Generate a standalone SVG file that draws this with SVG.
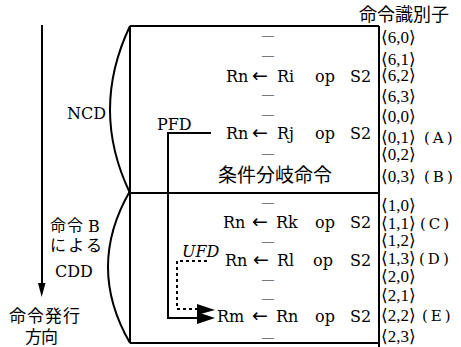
<svg xmlns="http://www.w3.org/2000/svg" width="461" height="347" viewBox="0 0 461 347">
<style>
.ln{fill:none;stroke:#000;stroke-width:2}
.lt{font-family:"DejaVu Serif","Liberation Serif",serif;font-size:16px;fill:#000}
.ar{font-family:"DejaVu Sans",sans-serif;font-size:19px}
.id{font-family:"Liberation Serif","DejaVu Serif",serif;font-size:17px;fill:#000}
.lb{font-family:"DejaVu Serif",serif;font-size:15px;letter-spacing:3px}
.jp{font-family:"Noto Sans CJK JP","Noto Sans CJK SC",sans-serif;fill:#000}
.dash{font-family:"Liberation Serif",serif;font-size:12px;fill:#000;text-anchor:middle}
</style>
<rect width="461" height="347" fill="#fff"/>
<g id="frame">
<path class="ln" d="M130,26 H379 M130,193 H379 M130,343 H379 M130,26 V343 M379,26 V347"/>
<path class="ln" d="M130,26 Q90,110 130,193"/>
<path class="ln" d="M130,191 Q86,267 130,343"/>
</g>
<g id="header"><text class="jp" x="359" y="21" font-size="18">命令識別子</text></g>
<g id="ncd-label"><text class="lt" x="67" y="119" font-size="17">NCD</text></g>
<g id="cdd-label">
<text class="jp" x="50" y="231" font-size="16" letter-spacing="1">命令</text>
<text class="lt" x="88" y="232" font-size="17">B</text>
<text class="jp" x="50" y="251" font-size="16" textLength="52">による</text>
<text class="lt" x="55" y="277" font-size="18">CDD</text>
</g>
<g id="direction-label">
<text class="jp" x="9" y="322" font-size="17" textLength="71">命令発行</text>
<text class="jp" x="25" y="343" font-size="17" textLength="33">方向</text>
</g>
<g id="dashes">
<text class="dash" x="268" y="39">—</text>
<text class="dash" x="268" y="59">—</text>
<text class="dash" x="268" y="98">—</text>
<text class="dash" x="268" y="118">—</text>
<text class="dash" x="268" y="157">—</text>
<text class="dash" x="268" y="206">—</text>
<text class="dash" x="268" y="245">—</text>
<text class="dash" x="268" y="283">—</text>
<text class="dash" x="268" y="302">—</text>
<text class="dash" x="268" y="341">—</text>
</g>
<g id="instr-ri"><text class="lt" y="82"><tspan x="226">Rn</tspan><tspan class="ar" x="252">←</tspan><tspan x="277">Ri</tspan><tspan x="315">op</tspan><tspan x="350">S2</tspan></text></g>
<g id="instr-rj"><text class="lt" y="139"><tspan x="226">Rn</tspan><tspan class="ar" x="252">←</tspan><tspan x="277">Rj</tspan><tspan x="315">op</tspan><tspan x="350">S2</tspan></text></g>
<g id="instr-branch"><text class="jp" x="218" y="182" font-size="19">条件分岐命令</text></g>
<g id="instr-rk"><text class="lt" y="228"><tspan x="223">Rn</tspan><tspan class="ar" x="252">←</tspan><tspan x="276">Rk</tspan><tspan x="315">op</tspan><tspan x="350">S2</tspan></text></g>
<g id="instr-rl"><text class="lt" y="266"><tspan x="225">Rn</tspan><tspan class="ar" x="253">←</tspan><tspan x="277">Rl</tspan><tspan x="313">op</tspan><tspan x="350">S2</tspan></text></g>
<g id="instr-rm"><text class="lt" y="322"><tspan x="217">Rm</tspan><tspan class="ar" x="252">←</tspan><tspan x="276">Rn</tspan><tspan x="315">op</tspan><tspan x="350">S2</tspan></text></g>
<g id="identifiers">
<text class="id" x="381" y="43">⟨6,0⟩</text>
<text class="id" x="381" y="65">⟨6,1⟩</text>
<text class="id" x="381" y="81">⟨6,2⟩</text>
<text class="id" x="381" y="102">⟨6,3⟩</text>
<text class="id" x="381" y="122">⟨0,0⟩</text>
<text class="id" x="381" y="143">⟨0,1⟩<tspan class="lb" x="424">(A)</tspan></text>
<text class="id" x="381" y="160">⟨0,2⟩</text>
<text class="id" x="381" y="182">⟨0,3⟩<tspan class="lb" x="424">(B)</tspan></text>
<text class="id" x="381" y="211">⟨1,0⟩</text>
<text class="id" x="381" y="229">⟨1,1⟩<tspan class="lb" x="420">(C)</tspan></text>
<text class="id" x="381" y="246">⟨1,2⟩</text>
<text class="id" x="381" y="264">⟨1,3⟩<tspan class="lb" x="419">(D)</tspan></text>
<text class="id" x="381" y="282">⟨2,0⟩</text>
<text class="id" x="381" y="301">⟨2,1⟩</text>
<text class="id" x="381" y="321">⟨2,2⟩<tspan class="lb" x="422">(E)</tspan></text>
<text class="id" x="381" y="342">⟨2,3⟩</text>
</g>
<g id="connectors">
<path class="ln" d="M42,25 V285"/>
<polygon points="38,283 45.5,283 41.7,297" fill="#000"/>
<path class="ln" d="M211,133 H168 V318 H200"/>
<polygon points="197,312 215,318 197,324" fill="#000"/>
<path class="ln" d="M207,261 H177 V309 H200" stroke-dasharray="3,3"/>
<polygon points="197,304 215,310 197,315" fill="#000"/>
<text class="lt" x="157" y="130" font-size="16">PFD</text>
<text class="lt" x="182" y="257" font-size="16" font-style="italic">UFD</text>
</g>
</svg>
